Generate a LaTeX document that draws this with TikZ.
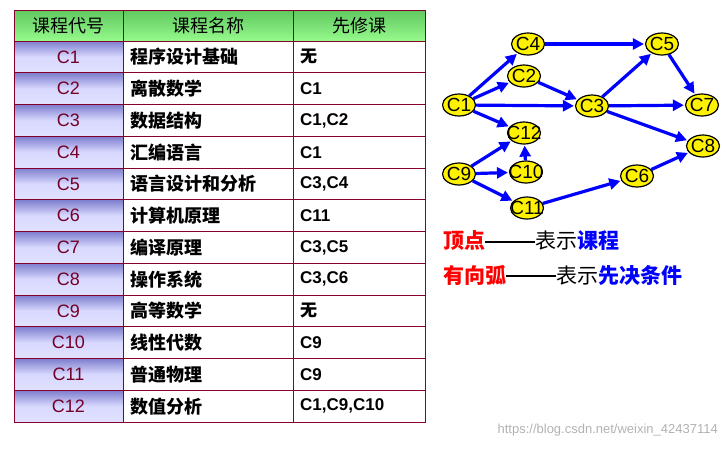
\documentclass[tikz,border=0pt]{standalone}
\usepackage{fontspec}
\setmainfont{Liberation Sans}
\newfontfamily\cjk{Noto Sans CJK SC}
\usetikzlibrary{shapes.geometric,arrows.meta}
\definecolor{hg1}{RGB}{96,200,96}
\definecolor{hg2}{RGB}{150,250,140}
\newcommand{\longdash}{\rule[0.3em]{50pt}{1.3pt}}
\begin{document}
\begin{tikzpicture}[x=1pt,y=-1pt,
  nd/.style={ellipse,draw=black,line width=1.2,fill=yellow,minimum width=33,minimum height=22,inner sep=0},
  lbl/.style={font=\fontsize{19}{19}\selectfont,inner sep=0},
  ar/.style={-{Triangle[length=11,width=11]},blue,line width=3.2,shorten >=1},
  cell/.style={inner sep=0,anchor=west},
  hd/.style={font=\cjk\fontsize{18}{18}\selectfont},
  cn/.style={font=\cjk\fontsize{18}{18}\selectfont\bfseries},
  cd/.style={font=\fontsize{17}{17}\selectfont\bfseries},
  cc/.style={font=\fontsize{18}{18}\selectfont,text=black!40!purple}]
\useasboundingbox (0,0) rectangle (726,448);
% header
\shade[top color=hg1,bottom color=hg2] (14,10) rectangle (425,41);
\foreach \i [count=\n from 0] in {C1,C2,C3,C4,C5,C6,C7,C8,C9,C10,C11,C12}{
  \pgfmathsetmacro\ya{41+31.75*\n}
  \shade[top color=blue!45!gray!70,bottom color=blue!12!white,middle color=blue!15!white] (14,\ya) rectangle (123,\ya+31.75);
  \node[cc,inner sep=0] (r\n) at (68.5,\ya+16) {\i};
}
\foreach \n in {0,...,12}{\draw[purple!70!black,line width=1] (14,{41+31.75*\n}) -- (425,{41+31.75*\n});}
\draw[purple!70!black,line width=1] (14,10) rectangle (425,422);
\draw[purple!70!black,line width=1] (123,10) -- (123,422) (293,10) -- (293,422);
\node[hd] (h1) at (68.5,26) {课程代号};
\node[hd] (h2) at (208,26) {课程名称};
\node[hd] (h3) at (359,26) {先修课};
\foreach \nm/\pr [count=\n from 0] in {程序设计基础/{\cjk 无},离散数学/C1,数据结构/{C1,C2},汇编语言/C1,语言设计和分析/{C3,C4},计算机原理/C11,编译原理/{C3,C5},操作系统/{C3,C6},高等数学/{\cjk 无},线性代数/C9,普通物理/C9,数值分析/{C1,C9,C10}}{
  \node[cell,cn] (n\n) at (130,{41+31.75*\n+16}) {\nm};
  \node[cell,cd] (p\n) at (300,{41+31.75*\n+16}) {\pr};
}
% graph
\node[nd,label={[lbl]center:C4}] (c4) at (528,44) {};
\node[nd,label={[lbl]center:C5}] (c5) at (662,44) {};
\node[nd,label={[lbl]center:C2}] (c2) at (524,76) {};
\node[nd,label={[lbl]center:C1}] (c1) at (459,105) {};
\node[nd,label={[lbl]center:C3}] (c3) at (592,106) {};
\node[nd,label={[lbl]center:C7}] (c7) at (702,105) {};
\node[nd,label={[lbl]center:C12}] (c12) at (524,133) {};
\node[nd,label={[lbl]center:C8}] (c8) at (703,146) {};
\node[nd,label={[lbl]center:C9}] (c9) at (459,174) {};
\node[nd,label={[lbl]center:C10}] (c10) at (526,172) {};
\node[nd,label={[lbl]center:C6}] (c6) at (637,176) {};
\node[nd,label={[lbl]center:C11}] (c11) at (527,208) {};
\draw[ar] (c1) -- (c4);
\draw[ar] (c1) -- (c2);
\draw[ar] (c1) -- (c3);
\draw[ar] (c1) -- (c12);
\draw[ar] (c2) -- (c3);
\draw[ar] (c4) -- (c5);
\draw[ar] (c3) -- (c5);
\draw[ar] (c5) -- (c7);
\draw[ar] (c3) -- (c7);
\draw[ar] (c3) -- (c8);
\draw[ar] (c9) -- (c12);
\draw[ar] (c9) -- (c10);
\draw[ar] (c10) -- (c12);
\draw[ar] (c9) -- (c11);
\draw[ar] (c11) -- (c6);
\draw[ar] (c6) -- (c8);
% legend
\node[anchor=west,inner sep=0,font=\cjk\fontsize{21}{21}\selectfont] (l1) at (443,241) {\textcolor{red}{\bfseries 顶点}\longdash 表示\textcolor{blue}{\bfseries 课程}};
\node[anchor=west,inner sep=0,font=\cjk\fontsize{21}{21}\selectfont] (l2) at (443,275) {\textcolor{red}{\bfseries 有向弧}\longdash 表示\textcolor{blue}{\bfseries 先决条件}};
\node[anchor=east,inner sep=0,text=gray!60,font=\fontsize{13}{13}\selectfont] (wm) at (718,430) {https://blog.csdn.net/weixin\_42437114};
\end{tikzpicture}
\end{document}
